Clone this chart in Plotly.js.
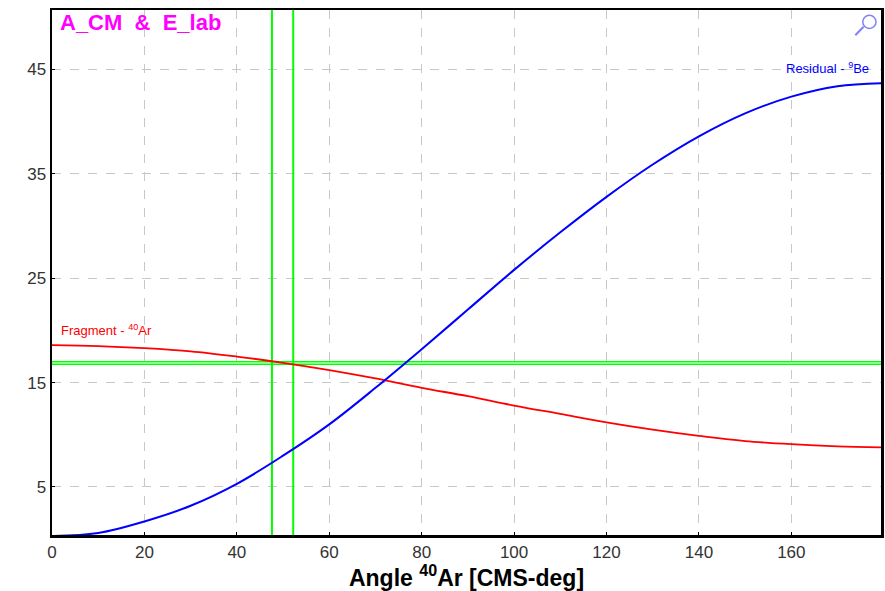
<!DOCTYPE html>
<html>
<head>
<meta charset="utf-8">
<script src="https://cdn.plot.ly/plotly-3.0.1.min.js"></script>
<style>html,body{margin:0;padding:0;background:#fff;}#chart{width:885px;height:591px;}</style>
</head>
<body>
<div id="chart"></div>
<script>
// Angle of 40Ar in CM (deg)
const angles = [0,10,20,30,40,50,60,70,80,90,100,110,120,130,140,150,160,170,180];
// Residual 9Be lab energy
const residual = [0.3,0.6,1.7,3.2,5.3,8.0,11.0,14.5,18.2,22.0,25.8,29.4,32.8,35.9,38.6,40.8,42.4,43.4,43.7];
// Fragment 40Ar lab energy
const fragment = [18.6,18.5,18.3,18.0,17.5,16.9,16.2,15.4,14.5,13.7,12.8,12.0,11.2,10.5,9.9,9.4,9.1,8.9,8.8];
// Marker lines (green)
const markerAngles = [47.6, 52.2];
const markerEnergies = [17.0, 16.75];
const xTicks = [0,20,40,60,80,100,120,140,160];
const yTicks = [5,15,25,35,45];
const xRange = [0, 179.4];
const yRange = [0.4, 50.7];

const traces = [];
markerAngles.forEach(a => traces.push({x:[a,a], y:yRange, mode:'lines', line:{color:'#00ff00', width:2}, hoverinfo:'skip', showlegend:false}));
markerEnergies.forEach(e => traces.push({x:xRange, y:[e,e], mode:'lines', line:{color:'#00ff00', width:1.5}, hoverinfo:'skip', showlegend:false}));
traces.push({x:angles, y:fragment, mode:'lines', line:{color:'#ff0000', width:1.8, shape:'spline'}, name:'Fragment', showlegend:false});
traces.push({x:angles, y:residual, mode:'lines', line:{color:'#0000ff', width:2, shape:'spline'}, name:'Residual', showlegend:false});

const layout = {
  width:885, height:591,
  margin:{l:52, r:4, t:10, b:56},
  paper_bgcolor:'#fff', plot_bgcolor:'#fff',
  font:{family:'Liberation Sans, Arial, sans-serif', color:'#333'},
  xaxis:{range:xRange, tickvals:xTicks, ticktext:xTicks.map(String), showgrid:true, gridcolor:'#c8c8c8', griddash:'dash', gridwidth:1,
    zeroline:false, showline:true, linecolor:'#000', linewidth:2.5, mirror:true, ticks:'inside', ticklen:3, tickcolor:'#000', tickwidth:1,
    tickfont:{size:17, color:'#333'},
    title:{text:'<b>Angle <sup>40</sup>Ar [CMS-deg]</b>', font:{size:23, color:'#000'}, standoff:2}},
  yaxis:{range:yRange, tickvals:yTicks, ticktext:yTicks.map(String), showgrid:true, gridcolor:'#c8c8c8', griddash:'dash', gridwidth:1,
    zeroline:false, showline:true, linecolor:'#000', linewidth:2.5, mirror:true, ticks:'inside', ticklen:3, tickcolor:'#000', tickwidth:1,
    tickfont:{size:17, color:'#333'}},
  shapes:[
    {type:'circle', xref:'paper', yref:'paper', x0:0.978, x1:0.994, y0:0.965, y1:0.99, line:{color:'#8080ff', width:1.5}, fillcolor:'rgba(0,0,0,0)'},
    {type:'line', xref:'paper', yref:'paper', x0:0.979, x1:0.969, y0:0.968, y1:0.952, line:{color:'#8080ff', width:2}}
  ],
  annotations:[
    {xref:'paper', yref:'paper', x:0.007, y:0.977, xanchor:'left', yanchor:'middle', showarrow:false,
     text:'<b>A_CM  &amp;  E_lab</b>', font:{size:22, color:'#ff00ff'}},
    {xref:'paper', yref:'y', x:0.988, y:45.1, xanchor:'right', yanchor:'middle', showarrow:false,
     text:'Residual - <sup>9</sup>Be', font:{size:13, color:'#0000ff'}},
    {xref:'x', yref:'y', x:1.6, y:19.1, xanchor:'left', yanchor:'bottom', showarrow:false,
     text:'Fragment - <sup>40</sup>Ar', font:{size:13, color:'#ff0000'}}
  ]
};
Plotly.newPlot('chart', traces, layout, {displayModeBar:false, staticPlot:true});
</script>
</body>
</html>
